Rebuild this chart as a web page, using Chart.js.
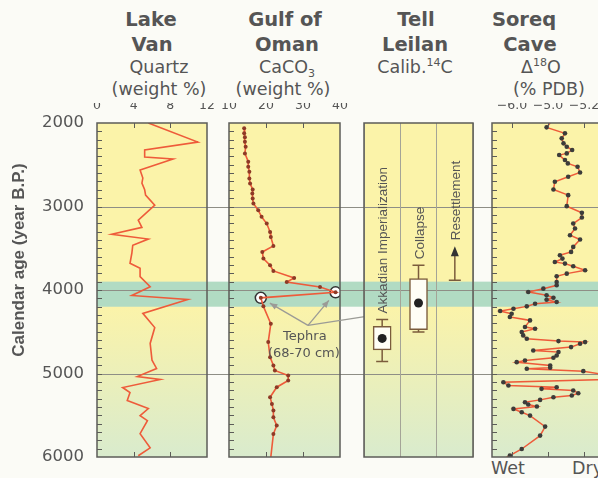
<!DOCTYPE html>
<html>
<head>
<meta charset="utf-8">
<script src="https://cdn.jsdelivr.net/npm/chart.js@4.4.1/dist/chart.umd.min.js"></script>
<style>
  body { margin: 0; background: #fbfbf6; overflow: hidden; }
  #wrap { position: relative; width: 598px; height: 478px; overflow: hidden; }
  #wrap canvas { position: absolute; left: 0; top: 0; }
  .t { position: absolute; width: 160px; height: 20px; line-height: 20px; text-align: center;
       color: #555; font-family: "DejaVu Sans", sans-serif; font-size: 17.5px; white-space: nowrap; }
  .b { font-weight: bold; font-size: 19.5px; }
  .t sup, .t sub { font-size: 11px; position: relative; vertical-align: baseline; }
  .t sup { top: -7px; }
  .t sub { top: 4px; }
</style>
</head>
<body>
<div id="wrap">
  <div class="t b" style="left:71px;top:10px">Lake</div>
  <div class="t b" style="left:72px;top:35px">Van</div>
  <div class="t" style="left:79px;top:57px">Quartz</div>
  <div class="t" style="left:79px;top:79px">(weight %)</div>

  <div class="t b" style="left:205px;top:10px">Gulf of</div>
  <div class="t b" style="left:207px;top:35px">Oman</div>
  <div class="t" style="left:207px;top:57px">CaCO<sub>3</sub></div>
  <div class="t" style="left:203px;top:79px">(weight %)</div>

  <div class="t b" style="left:336px;top:10px">Tell</div>
  <div class="t b" style="left:335px;top:35px">Leilan</div>
  <div class="t" style="left:335px;top:57px">Calib.<sup>14</sup>C</div>

  <div class="t b" style="left:444px;top:10px">Soreq</div>
  <div class="t b" style="left:450px;top:35px">Cave</div>
  <div class="t" style="left:461px;top:57px">&Delta;<sup>18</sup>O</div>
  <div class="t" style="left:469px;top:79px">(% PDB)</div>

  <div class="t" style="left:491px;top:458px;width:auto;text-align:left">Wet</div>
  <div class="t" style="left:572px;top:458px;width:auto;text-align:left">Dry</div>
</div>
<script>
// shared age axis
const yearMin = 2000;
const yearMax = 6000;
const yearTicks = [2000, 3000, 4000, 5000, 6000];
const yearLines = [3000, 4000, 5000];
const bandYears = [3900, 4200];

// Lake Van, quartz (weight %)
const vanTicks = [0, 4, 8, 12];
const vanYears = [2000, 2228, 2324, 2408, 2432, 2564, 2660, 2720, 2800, 2864, 2984, 3164, 3250, 3333,
  3390, 3465, 3560, 3680, 3740, 3840, 3960, 4065, 4113, 4280, 4450, 4640, 4840, 4940, 5036, 5072,
  5168, 5228, 5324, 5420, 5505, 5565, 5720, 5890, 5985];
const vanQuartz = [5.6, 11.0, 5.2, 5.2, 8.3, 4.7, 5.0, 4.9, 5.2, 5.3, 6.3, 4.5, 4.9, 1.6,
  5.6, 3.9, 3.8, 3.6, 4.7, 4.7, 5.8, 3.8, 9.9, 5.0, 6.3, 5.8, 6.0, 6.5, 4.4, 6.9,
  2.8, 3.6, 3.3, 5.6, 4.7, 5.5, 4.7, 5.8, 4.5];

// Gulf of Oman, CaCO3 (weight %)
const omanTicks = [10, 20, 30, 40];
const omanYears = [2064, 2124, 2172, 2224, 2284, 2364, 2464, 2524, 2584, 2664, 2724, 2796, 2844, 2904,
  2964, 3044, 3124, 3204, 3304, 3364, 3472, 3544, 3624, 3704, 3772, 3856, 3904, 3964, 4028, 4094,
  4196, 4404, 4624, 4804, 4904, 4964, 5024, 5084, 5164, 5284, 5364, 5444, 5524, 5624, 5724, 6000];
const omanCaco3 = [14.1, 14.1, 14.3, 14.3, 14.5, 14.3, 15.2, 15.2, 15.5, 15.5, 15.7, 16.4, 16.3, 16.4,
  16.6, 17.9, 18.8, 20.2, 21.1, 21.3, 22.0, 19.0, 19.3, 21.1, 22.0, 27.6, 25.6, 34.6, 38.8, 18.6,
  19.3, 21.3, 20.6, 21.1, 22.0, 22.4, 26.0, 26.0, 22.9, 21.1, 21.6, 22.0, 22.0, 22.9, 22.0, 21.3];
const tephraYears = [4028, 4094];
const tephraCaco3 = [38.8, 18.6];
const tephraText = ["Tephra", "(68-70 cm)"];

// Tell Leilan, calibrated 14C ages
const leilanEvents = ["Akkadian Imperialization", "Collapse", "Resettlement"];
const leilanWhiskerTop = [4352, 3704, 3884];
const leilanBoxTop = [4436, 3864, null];
const leilanMid = [4580, 4156, null];
const leilanBoxBottom = [4718, 4476, null];
const leilanWhiskerBottom = [4856, 4504, 3884];
const resettlementArrowTip = 3476;

// Soreq Cave, d18O
const soreqTicks = [-6, -5, -4];
const soreqTickLabels = ["\u22126.0", "\u22125.0", "\u22125.2"];
const soreqYears = [2000, 2052, 2124, 2184, 2244, 2284, 2324, 2364, 2384, 2444, 2484, 2524, 2592, 2644,
  2704, 2796, 2864, 2996, 3076, 3132, 3204, 3264, 3344, 3396, 3484, 3544, 3584, 3624, 3664, 3684,
  3716, 3764, 3804, 3836, 3904, 3944, 3984, 4024, 4064, 4092, 4116, 4144, 4164, 4196, 4224, 4252,
  4284, 4324, 4364, 4444, 4464, 4504, 4544, 4584, 4612, 4624, 4644, 4684, 4724, 4744, 4784, 4812,
  4844, 4864, 4904, 4932, 4944, 4972, 5016, 5072, 5104, 5144, 5164, 5184, 5204, 5236, 5264, 5284,
  5316, 5344, 5372, 5396, 5424, 5464, 5504, 5636, 5744, 5904, 5984, 6000];
const soreqD18O = [-4.94, -5.04, -4.53, -4.62, -4.57, -4.48, -4.33, -4.48, -4.69, -4.53, -4.45, -4.18, -4.11, -4.44,
  -4.81, -4.85, -4.44, -4.48, -4.06, -4.06, -4.30, -4.25, -4.39, -4.11, -4.30, -4.36, -4.67, -4.60, -4.81, -4.53,
  -4.30, -3.97, -4.48, -4.76, -4.76, -4.76, -5.13, -5.55, -5.04, -4.85, -5.04, -4.76, -5.36, -5.59, -5.96, -6.33,
  -6.01, -6.06, -5.50, -5.64, -5.36, -5.73, -5.69, -5.59, -4.71, -3.97, -4.11, -4.36, -5.41, -4.71, -4.76, -4.85,
  -5.64, -5.87, -4.94, -4.94, -5.59, -4.02, -3.40, -3.40, -6.24, -6.10, -4.76, -5.18, -4.30, -4.16, -4.34, -4.85,
  -5.22, -5.64, -5.55, -5.31, -5.96, -5.73, -5.50, -5.08, -5.22, -5.73, -6.06, -6.15];

// layout (pixels)
const W = 640, H = 478;
const PANEL_TOP = 123, PANEL_BOTTOM = 457;
const AXIS_H = 20;

const YELLOW = "#fbf3a9";
const PALE_GREEN = "#d9ebcd";
const BAND = "#b1dbc3";
const FRAME = "#5c5c58";
const GRID = "#8e8e86";
const RED = "#ee5b3a";
const BROWN = "#7b5c3c";
const TEXT = "#555";

Chart.defaults.font.family = "DejaVu Sans";
Chart.defaults.color = TEXT;

const wrap = document.getElementById("wrap");
function addCanvas() {
  const c = document.createElement("canvas");
  c.width = W;
  c.height = H;
  c.style.width = W + "px";
  c.style.height = H + "px";
  wrap.appendChild(c);
  return c;
}

const panelPlugin = {
  id: "panel",
  beforeDraw(chart, args, opts) {
    const { ctx, chartArea: a } = chart;
    const y = chart.scales.y;
    const bandTop = y.getPixelForValue(bandYears[0]);
    const bandBottom = y.getPixelForValue(bandYears[1]);
    ctx.save();
    if (opts.fill) {
      ctx.fillStyle = YELLOW;
      ctx.fillRect(a.left, a.top, a.width, bandBottom - a.top);
      const g = ctx.createLinearGradient(0, bandBottom, 0, a.bottom);
      g.addColorStop(0, YELLOW);
      g.addColorStop(1, PALE_GREEN);
      ctx.fillStyle = g;
      ctx.fillRect(a.left, bandBottom, a.width, a.bottom - bandBottom);
    }
    ctx.fillStyle = BAND;
    ctx.fillRect(a.left, bandTop, a.width, bandBottom - bandTop);
    ctx.strokeStyle = GRID;
    ctx.lineWidth = 1;
    yearLines.forEach((v) => {
      const py = Math.round(y.getPixelForValue(v)) + 0.5;
      ctx.beginPath();
      ctx.moveTo(a.left, py);
      ctx.lineTo(a.right, py);
      ctx.stroke();
    });
    ctx.restore();
  },
  afterDraw(chart, args, opts) {
    if (!opts.frame) return;
    const { ctx, chartArea: a } = chart;
    ctx.save();
    ctx.strokeStyle = FRAME;
    ctx.lineWidth = 1;
    if (opts.minor) {
      const y = chart.scales.y;
      for (let v = yearMin + 100; v < yearMax; v += 100) {
        const py = Math.round(y.getPixelForValue(v)) + 0.5;
        ctx.beginPath();
        ctx.moveTo(a.left, py);
        ctx.lineTo(a.left + 5, py);
        ctx.stroke();
      }
    }
    if (opts.xTicks) {
      const x = chart.scales.x;
      x.ticks.forEach((t) => {
        const px = Math.round(x.getPixelForValue(t.value)) + 0.5;
        if (px <= a.left + 2 || px >= a.right - 2) return;
        ctx.beginPath();
        ctx.moveTo(px, a.top);
        ctx.lineTo(px, a.top + 5);
        ctx.moveTo(px, a.bottom);
        ctx.lineTo(px, a.bottom - 5);
        ctx.stroke();
      });
    }
    ctx.lineWidth = 1.5;
    ctx.strokeRect(a.left, a.top, a.width, a.height);
    ctx.restore();
  }
};

function yScale() {
  return { type: "linear", display: false, min: yearMin, max: yearMax, reverse: true };
}

function topAxis(min, max, ticks, labels) {
  return {
    type: "linear",
    position: "top",
    min: min,
    max: max,
    afterBuildTicks: (s) => { s.ticks = ticks.map((v) => ({ value: v })); },
    afterFit: (s) => { s.height = AXIS_H; },
    grid: { display: false },
    border: { display: false },
    ticks: {
      padding: 2,
      color: TEXT,
      font: { size: 12.5 },
      callback: (v, i) => (labels ? labels[i] : String(v))
    }
  };
}

function panelOptions(left, right, xAxis, frameOpts) {
  return {
    responsive: false,
    animation: false,
    events: [],
    layout: { padding: { left: left, right: W - right, top: PANEL_TOP - AXIS_H, bottom: H - PANEL_BOTTOM } },
    plugins: {
      legend: { display: false },
      tooltip: { enabled: false },
      panel: Object.assign({ fill: true, frame: true, minor: true, xTicks: true }, frameOpts)
    },
    scales: { x: xAxis, y: yScale() }
  };
}

function series(xs, ys) {
  return xs.map((v, i) => ({ x: v, y: ys[i] }));
}

// background: shared age axis, band and age lines across the gaps
const bgPlugin = {
  id: "bgTitle",
  afterDraw(chart) {
    const { ctx } = chart;
    ctx.save();
    ctx.translate(19, 260);
    ctx.rotate(-Math.PI / 2);
    ctx.font = "bold 17px 'Liberation Sans'";
    ctx.fillStyle = TEXT;
    ctx.textAlign = "center";
    ctx.textBaseline = "middle";
    ctx.fillText("Calendar age (year B.P.)", 0, 0);
    ctx.restore();
  }
};

new Chart(addCanvas(), {
  type: "scatter",
  data: { datasets: [] },
  options: {
    responsive: false,
    animation: false,
    events: [],
    layout: { padding: { left: 0, right: W - 598, top: PANEL_TOP, bottom: H - PANEL_BOTTOM } },
    plugins: { legend: { display: false }, tooltip: { enabled: false }, panel: { fill: false, frame: false } },
    scales: {
      x: { display: false, min: 0, max: 1 },
      y: {
        type: "linear",
        min: yearMin,
        max: yearMax,
        reverse: true,
        afterBuildTicks: (s) => { s.ticks = yearTicks.map((v) => ({ value: v })); },
        afterFit: (s) => { s.width = 97; },
        grid: { display: false },
        border: { display: false },
        ticks: { padding: 5, color: TEXT, font: { size: 16.5 }, callback: (v) => String(v) }
      }
    }
  },
  plugins: [panelPlugin, bgPlugin]
});

// Lake Van
new Chart(addCanvas(), {
  type: "scatter",
  data: {
    datasets: [{
      data: series(vanQuartz, vanYears),
      showLine: true,
      borderColor: RED,
      borderWidth: 1.6,
      pointRadius: 0
    }]
  },
  options: panelOptions(97, 207, topAxis(0, 12, vanTicks)),
  plugins: [panelPlugin]
});

// Gulf of Oman
const tephraLabel = { x: 30.5, year: 4556 };
const tephraFrom = { x: 31.35, year: 4424 };
const tephraToLeilan = { x: 57.6, year: 4244 };

function arrow(ctx, x0, y0, x1, y1, shorten) {
  const ang = Math.atan2(y1 - y0, x1 - x0);
  const ex = x1 - Math.cos(ang) * shorten;
  const ey = y1 - Math.sin(ang) * shorten;
  ctx.beginPath();
  ctx.moveTo(x0, y0);
  ctx.lineTo(ex, ey);
  ctx.stroke();
  ctx.beginPath();
  ctx.moveTo(ex, ey);
  ctx.lineTo(ex - Math.cos(ang - 0.4) * 8, ey - Math.sin(ang - 0.4) * 8);
  ctx.lineTo(ex - Math.cos(ang + 0.4) * 8, ey - Math.sin(ang + 0.4) * 8);
  ctx.closePath();
  ctx.fill();
}

const tephraPlugin = {
  id: "tephra",
  afterDraw(chart) {
    const { ctx } = chart;
    const x = chart.scales.x, y = chart.scales.y;
    ctx.save();
    const lx = x.getPixelForValue(tephraLabel.x), ly = y.getPixelForValue(tephraLabel.year);
    ctx.font = "13px 'DejaVu Sans'";
    ctx.fillStyle = TEXT;
    ctx.textAlign = "center";
    ctx.textBaseline = "middle";
    tephraText.forEach((s, i) => ctx.fillText(s, lx - i, ly + i * 17));
    const sx = x.getPixelForValue(tephraFrom.x), sy = y.getPixelForValue(tephraFrom.year);
    ctx.strokeStyle = "#9b9b96";
    ctx.fillStyle = "#9b9b96";
    ctx.lineWidth = 1.3;
    tephraYears.forEach((yr, i) => {
      arrow(ctx, sx, sy, x.getPixelForValue(tephraCaco3[i]), y.getPixelForValue(yr), 10.5);
    });
    arrow(ctx, sx, sy, x.getPixelForValue(tephraToLeilan.x), y.getPixelForValue(tephraToLeilan.year), 0);
    ctx.restore();
  }
};

new Chart(addCanvas(), {
  type: "scatter",
  data: {
    datasets: [
      {
        data: series(omanCaco3, omanYears),
        showLine: true,
        borderColor: RED,
        borderWidth: 1.6,
        pointRadius: (c) => (c.dataIndex === omanYears.length - 1 ? 0 : 2),
        pointBackgroundColor: "#8e3a26",
        pointBorderWidth: 0,
        order: 1
      },
      {
        data: series(tephraCaco3, tephraYears),
        pointRadius: 5.5,
        pointBackgroundColor: "#ffffff",
        pointBorderColor: "#333",
        pointBorderWidth: 1.5,
        order: 2
      }
    ]
  },
  options: panelOptions(229, 340, topAxis(10, 40, omanTicks)),
  plugins: [panelPlugin, tephraPlugin]
});

// Tell Leilan
const leilanPlugin = {
  id: "leilan",
  beforeDatasetsDraw(chart) {
    const { ctx } = chart;
    const x = chart.scales.x, y = chart.scales.y;
    ctx.save();
    ctx.strokeStyle = BROWN;
    ctx.lineWidth = 1.5;
    leilanEvents.forEach((e, i) => {
      const px = x.getPixelForValue(i);
      const top = y.getPixelForValue(leilanWhiskerTop[i]);
      const bottom = y.getPixelForValue(leilanWhiskerBottom[i]);
      ctx.beginPath();
      ctx.moveTo(px - 6, top); ctx.lineTo(px + 6, top);
      ctx.moveTo(px - 6, bottom); ctx.lineTo(px + 6, bottom);
      ctx.moveTo(px, top); ctx.lineTo(px, bottom);
      ctx.stroke();
    });
    // resettlement arrow
    const rx = x.getPixelForValue(2);
    const base = y.getPixelForValue(leilanWhiskerTop[2]);
    const tip = y.getPixelForValue(resettlementArrowTip);
    ctx.beginPath();
    ctx.moveTo(rx, base);
    ctx.lineTo(rx, tip + 8);
    ctx.stroke();
    ctx.fillStyle = "#333";
    ctx.beginPath();
    ctx.moveTo(rx, tip);
    ctx.lineTo(rx - 4, tip + 10);
    ctx.lineTo(rx + 4, tip + 10);
    ctx.closePath();
    ctx.fill();
    ctx.restore();
  },
  afterDatasetsDraw(chart) {
    const { ctx } = chart;
    const x = chart.scales.x, y = chart.scales.y;
    ctx.save();
    ctx.font = "13.5px 'Liberation Sans'";
    ctx.fillStyle = TEXT;
    ctx.textAlign = "left";
    ctx.textBaseline = "middle";
    leilanEvents.forEach((e, i) => {
      const top = i === 2 ? resettlementArrowTip : leilanWhiskerTop[i];
      ctx.save();
      ctx.translate(x.getPixelForValue(i) + 1.5, y.getPixelForValue(top) - 6);
      ctx.rotate(-Math.PI / 2);
      ctx.fillText(e, 0, 0);
      ctx.restore();
    });
    ctx.restore();
  }
};

const leilanOptions = panelOptions(364, 473, {
  type: "category",
  position: "bottom",
  offset: true,
  afterFit: (s) => { s.height = 0; },
  grid: { offset: true, color: "#a4a497", lineWidth: 1, drawTicks: false },
  ticks: { display: false },
  border: { display: false }
}, { minor: false, xTicks: false });
leilanOptions.layout.padding.top = PANEL_TOP;

new Chart(addCanvas(), {
  type: "bar",
  data: {
    labels: leilanEvents,
    datasets: [
      {
        type: "bar",
        data: leilanEvents.map((e, i) => (leilanBoxTop[i] == null ? null : [leilanBoxTop[i], leilanBoxBottom[i]])),
        backgroundColor: "#fffef6",
        borderColor: BROWN,
        borderWidth: 1.5,
        borderSkipped: false,
        barThickness: 18,
        order: 2
      },
      {
        type: "scatter",
        data: leilanEvents.map((e, i) => ({ x: e, y: leilanMid[i] })).filter((d) => d.y != null),
        pointRadius: 4.5,
        pointBackgroundColor: "#222",
        pointBorderWidth: 0,
        order: 1
      }
    ]
  },
  options: leilanOptions,
  plugins: [panelPlugin, leilanPlugin]
});

// Soreq Cave
new Chart(addCanvas(), {
  type: "scatter",
  data: {
    datasets: [{
      data: series(soreqD18O, soreqYears),
      showLine: true,
      borderColor: RED,
      borderWidth: 1.5,
      pointRadius: (c) => (c.dataIndex === 0 || c.dataIndex === soreqYears.length - 1 ? 0 : 2.3),
      pointBackgroundColor: "#3c3c3a",
      pointBorderWidth: 0
    }]
  },
  options: panelOptions(492, 615, topAxis(-6.556, -3.14, soreqTicks, soreqTickLabels)),
  plugins: [panelPlugin]
});
</script>
</body>
</html>
